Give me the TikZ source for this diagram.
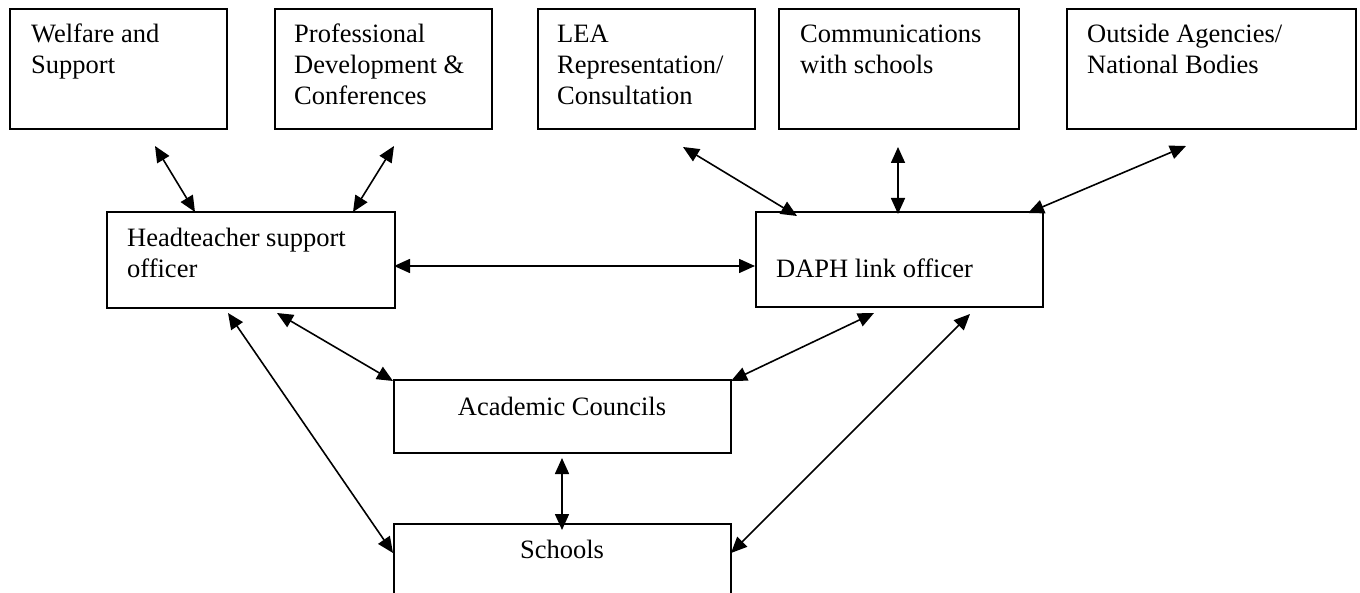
\documentclass[tikz,border=0pt]{standalone}
\usepackage{fontspec}
\setmainfont{Liberation Serif}
\usetikzlibrary{arrows.meta}
\tikzset{
  box/.style={draw, rectangle, anchor=north west, inner sep=0pt, line width=1.8pt},
  lbl/.style={anchor=base west, align=left, inner sep=0pt, font=\fontsize{26.5}{31}\selectfont},
  clbl/.style={anchor=base, align=center, inner sep=0pt, font=\fontsize{26.5}{31}\selectfont},
  conn/.style={{Triangle[length=16pt,width=14pt]}-{Triangle[length=16pt,width=14pt]}, line width=1.6pt}
}
\begin{document}
\begin{tikzpicture}[x=1pt,y=-1pt]
\useasboundingbox (0,0) rectangle (1360,593);
\clip (0,0) rectangle (1360,593);
% boxes
\node[box, minimum width=217pt, minimum height=120pt] (welfare) at (9,8) {};
\node[box, minimum width=217pt, minimum height=120pt] (prof) at (274,8) {};
\node[box, minimum width=217pt, minimum height=120pt] (lea) at (537,8) {};
\node[box, minimum width=240pt, minimum height=120pt] (comm) at (778,8) {};
\node[box, minimum width=289pt, minimum height=120pt] (outside) at (1066,8) {};
\node[box, minimum width=288pt, minimum height=96pt] (head) at (106,211) {};
\node[box, minimum width=287pt, minimum height=95pt] (daph) at (755,211) {};
\node[box, minimum width=337pt, minimum height=73pt] (acad) at (393,379) {};
\node[box, minimum width=337pt, minimum height=90pt] (schools) at (393,523) {};
% texts (anchored at the baseline of the last line)
\node[lbl] (twelfare) at (31,74) {Welfare and\\Support};
\node[lbl] (tprof) at (294,105) {Professional\\Development \&\\Conferences};
\node[lbl] (tlea) at (557,105) {LEA\\Representation/\\Consultation};
\node[lbl] (tcomm) at (800,74) {Communications\\with schools};
\node[lbl] (toutside) at (1087,74) {Outside Agencies/\\National Bodies};
\node[lbl] (thead) at (127,278) {Headteacher support\\officer};
\node[lbl] (tdaph) at (776,278) {DAPH link officer};
\node[clbl] (tacad) at (562,415) {Academic Councils};
\node[clbl] (tschools) at (562,558) {Schools};
% connector ends
\coordinate (welfareS) at (155,146);
\coordinate (headNa) at (195,212);
\coordinate (profS) at (394,146);
\coordinate (headNb) at (353,212);
\coordinate (leaS) at (683,147);
\coordinate (daphNa) at (797,216);
\coordinate (commS) at (898,147);
\coordinate (daphNb) at (898,214);
\coordinate (outsideS) at (1186,146);
\coordinate (daphNc) at (1028,213);
\coordinate (headE) at (394,266);
\coordinate (daphW) at (755,266);
\coordinate (headSa) at (228,313);
\coordinate (headSb) at (277,313);
\coordinate (acadNW) at (393,381);
\coordinate (schoolsW) at (393,553);
\coordinate (daphSa) at (874,313);
\coordinate (daphSb) at (970,314);
\coordinate (acadNE) at (731,381);
\coordinate (schoolsE) at (731,553);
\coordinate (acadS) at (562,458);
\coordinate (schoolsN) at (562,530);
% connectors
\draw[conn] (welfareS) -- (headNa);
\draw[conn] (profS) -- (headNb);
\draw[conn] (leaS) -- (daphNa);
\draw[conn] (commS) -- (daphNb);
\draw[conn] (outsideS) -- (daphNc);
\draw[conn] (headE) -- (daphW);
\draw[conn] (headSb) -- (acadNW);
\draw[conn] (headSa) -- (schoolsW);
\draw[conn] (daphSa) -- (acadNE);
\draw[conn] (daphSb) -- (schoolsE);
\draw[conn] (acadS) -- (schoolsN);
\end{tikzpicture}
\end{document}
